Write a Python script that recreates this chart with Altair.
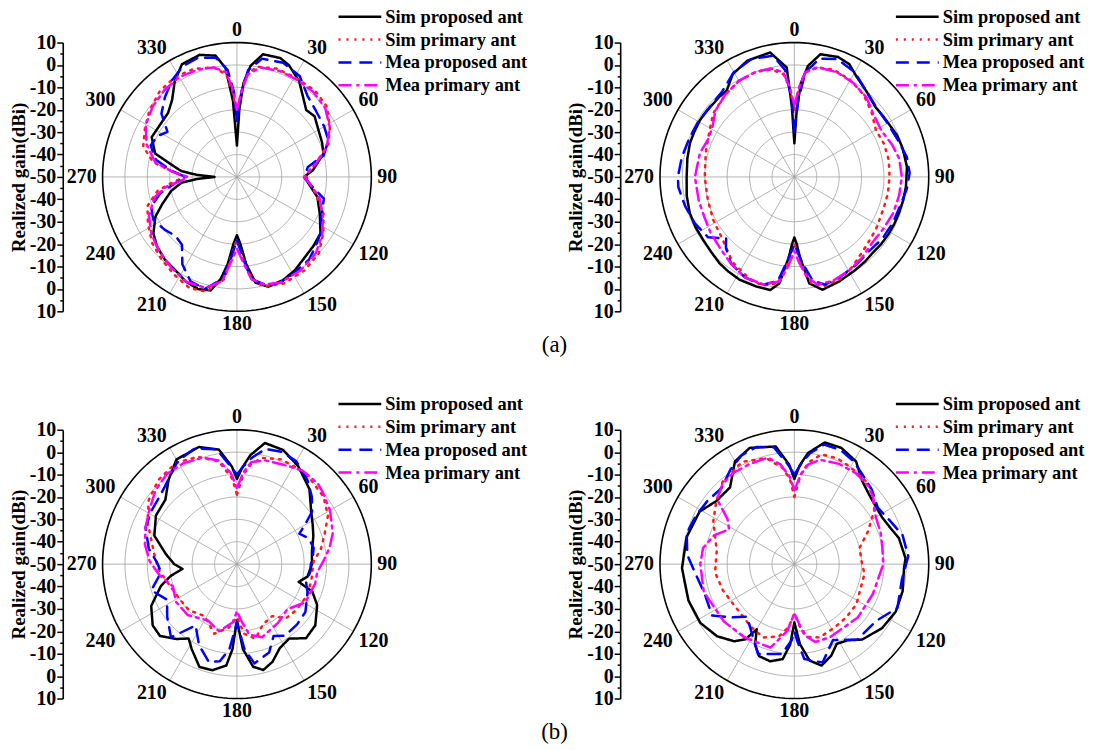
import altair as alt
import pandas as pd

SERIES = ["Sim proposed ant", "Sim primary ant", "Mea proposed ant", "Mea primary ant"]
COLORS = ["#000000", "#ff1a1a", "#0000ff", "#ff00ff"]
DASHES = [[1, 0], [2, 6], [13, 8], [13, 5, 3, 5]]

CENTER_GAIN = -50
OUTER_GAIN = 10
RING_GAINS = [-40, -30, -20, -10, 0]
SPOKE_DEG = [0, 30, 60, 90, 120, 150, 180, 210, 240, 270, 300, 330]
ANGLE_LABELS = ["0", "30", "60", "90", "120", "150", "180", "210", "240", "270", "300", "330"]
AXIS_VALUES = list(range(-60, 61, 5))
PANEL_TAGS = ["(a)", "(b)"]
FONT = "Liberation Serif"

# ---------------- (a) left ----------------
A1_SIM_PROP_DEG = [0, 2, 4, 7, 12, 20, 25, 33, 41, 46, 52, 60, 68, 75, 85, 90, 95, 104, 114, 124,
                   132, 140, 148, 156, 164, 170, 174, 177, 180, 183, 186, 189, 193, 199, 206, 213, 221, 229, 236, 244,
                   250, 258, 264, 267, 270, 273, 276, 280, 286, 295, 303, 313, 320, 327, 334, 343, 350, 354, 357, 360]
A1_SIM_PROP_GAIN = [-36, -20, -8, 0, 6, 6.5, 5, 1, -4.5, -7, -6, -8, -9, -10, -16, -20, -18, -13, -9.5, -5,
                    -4, -3, -1, 0.5, 1, -2, -11, -20, -24, -20, -11, -4, 2, 3, 2, 0, -1, -2.7, -5, -9.5,
                    -14.5, -20, -25, -32, -40, -32, -25, -21, -12, -8, -8.5, -8, -5, 1, 6, 7, 5, -1, -16, -36]
A1_SIM_PRIM_DEG = [0, 2, 5, 10, 20, 30, 42, 52, 62, 70, 78, 84, 90, 96, 102, 113, 123, 133, 144, 156,
                   166, 172, 176, 180, 184, 187, 195, 203, 212, 222, 232, 242, 252, 260, 266, 270, 274, 280, 288, 298,
                   307, 318, 328, 338, 348, 354, 357, 360]
A1_SIM_PRIM_GAIN = [-22, -15, -5, 0, 1.5, 1.5, 2, 1, -3, -6.5, -13, -17, -19, -17, -14, -8, -4, 0, 1.5, 2,
                    0.5, -4, -14, -22, -15, -4, 3, 4, 2, 0, -2, -5, -8, -14, -22, -27, -22, -12, -6, -3.5,
                    -1, 1.5, 2.5, 2, 0, -4, -12, -22]
A1_MEA_PROP_DEG = [0, 3, 6, 12, 22, 32, 41, 50, 60, 68, 76, 82, 90, 96, 104, 114, 124, 132, 139, 150,
                   158, 165, 172, 176, 180, 184, 188, 196, 204, 212, 219, 226, 234, 243, 251, 258, 264, 270, 276, 282,
                   290, 297, 303, 310, 318, 326, 334, 342, 350, 355, 358, 360]
A1_MEA_PROP_GAIN = [-25, -12, -2, 4, 5, 3, -2, -4, -5, -6, -10, -18, -20, -17, -10, -8.6, -5, -3, -1, 0,
                    1, 0, -4, -14, -22, -14, -4, 2, 1, -4, -11, -12, -10, -8, -9.5, -15, -22, -27, -20, -13,
                    -9, -10, -13, -6, -2, 2, 5, 6, 4, -2, -12, -25]
A1_MEA_PRIM_DEG = [0, 3, 6, 12, 22, 32, 42, 52, 62, 72, 80, 86, 90, 96, 104, 114, 124, 134, 146, 158,
                   166, 172, 176, 180, 184, 188, 196, 206, 216, 226, 236, 246, 256, 262, 266, 270, 274, 280, 290, 300,
                   310, 320, 330, 340, 348, 354, 357, 360]
A1_MEA_PRIM_GAIN = [-20, -12, -4, 0, 1, 1, 1, 0, -3, -8, -14, -18, -20, -17, -12, -8, -4, -1, 0.5, 1,
                    -0.5, -4, -12, -18, -12, -3, 1.5, 2, 0, -2, -4, -7, -12, -18, -25, -28, -22, -13, -7, -3,
                    -1, 0.5, 1.5, 1, 0, -3, -10, -20]

# ---------------- (a) right ----------------
A2_SIM_PROP_DEG = [0, 2, 4, 7, 12, 20, 26, 32, 40, 49, 55, 61, 68, 75, 85, 95, 102, 109, 115, 121,
                   128, 134, 140, 147, 157, 166, 172, 176, 178, 180, 182, 184, 188, 192, 199, 208, 215, 221, 228, 235,
                   243, 251, 260, 270, 280, 288, 294, 301, 307, 312, 317, 322, 329, 338, 349, 356, 358, 360]
A2_SIM_PROP_GAIN = [-35, -20, -8, 0, 6, 7, 6, 2.6, 0, -2.2, -2, -1.6, -0.5, 0, 0.5, 0, -0.3, -0.6, -0.7, -0.8,
                    -1, -1.3, -0.8, -0.3, 0.8, 1.9, -2, -14, -20, -23, -20, -14, -2, 1.6, 1.8, 2, 1.5, 1, 0, -0.5,
                    -0.5, -0.6, -1.2, -1.9, -1.5, -1, -1, -0.8, -1, -1.2, -1, -1, 3.5, 6, 6.6, -1, -19, -35]
A2_SIM_PRIM_DEG = [0, 3, 6, 12, 20, 30, 40, 50, 60, 70, 80, 90, 100, 108, 116, 123, 134, 147, 156, 165,
                   171, 175, 180, 185, 189, 196, 203, 216, 229, 242, 255, 270, 285, 293, 302, 308, 320, 330, 340, 348,
                   354, 357, 360]
A2_SIM_PRIM_GAIN = [-20, -10, -3, 0, 1, 0, -2, -5, -8, -7.3, -7.2, -7.5, -7.6, -7.8, -7.5, -6.7, -5.5, -2.3, 0, 0.5,
                    -2, -10, -20, -10, -2, 0.5, 0, -3, -7.5, -9, -10, -10, -9, -8, -6, -4, -2, -0.5, 0, -1,
                    -4, -10, -20]
A2_MEA_PROP_DEG = [0, 3, 6, 12, 20, 30, 40, 50, 60, 70, 80, 88, 96, 105, 115, 125, 135, 145, 155, 164,
                   170, 175, 180, 185, 189, 196, 206, 216, 224, 228, 235, 245, 255, 265, 270, 280, 290, 300, 310, 320,
                   330, 340, 350, 355, 358, 360]
A2_MEA_PROP_GAIN = [-30, -15, -3, 4, 6, 4, 0, -2, -2, -1, 1, 1.5, 0.5, -1, -1.5, -2, -3, -2, -1, 0,
                    -3, -12, -20, -12, -3, 0, 0, -2, -6, -9, -3, -1, 0.5, 2, 2, 1, 0, -0.5, -1, 0,
                    4, 6, 5, -2, -15, -30]
A2_MEA_PRIM_DEG = [0, 3, 6, 12, 22, 32, 42, 52, 62, 72, 80, 90, 100, 110, 120, 130, 140, 150, 160, 168,
                   173, 177, 180, 184, 188, 196, 206, 216, 226, 236, 246, 256, 270, 284, 294, 302, 310, 320, 330, 340,
                   348, 354, 357, 360]
A2_MEA_PRIM_GAIN = [-18, -10, -3, 0, 0.5, -0.5, -2, -5, -6, -4, -2.5, -2, -2.5, -3, -4, -4.5, -3, -1.5, -0.5, -1,
                    -5, -12, -17, -10, -3, 0, 0, -2, -4, -5, -6, -6, -5.6, -6.5, -8, -7, -4, -2, -0.5, 0,
                    -0.5, -3, -10, -18]

# ---------------- (b) left ----------------
B1_SIM_PROP_DEG = [0, 3, 7, 13, 22, 32, 44, 55, 63, 70, 80, 90, 100, 106, 110, 117, 128, 137, 145, 153,
                   160, 166, 171, 176, 180, 183, 186, 193, 200, 208, 213, 219, 227, 234, 244, 254, 260, 265, 270, 278,
                   289, 301, 312, 321, 330, 342, 351, 357, 360]
B1_SIM_PROP_GAIN = [-12, -7, -1, 5.5, 5, 1.6, -3.4, -9.5, -12, -13.7, -16, -16.5, -18, -21.3, -14.2, -9.8, -5.6, -4.8, -9.4, -7.9,
                    -3.6, -1.3, -3.6, -12, -25, -12, -4.5, -1.4, -1.1, -7, -10.4, -7, -3, -3.5, -7.4, -14.7, -20, -25.6, -22, -18,
                    -11, -7.8, -7, -1.5, 4, 5, 1.8, -6.3, -12]
B1_SIM_PRIM_DEG = [0, 4, 8, 13, 23, 37, 52, 62, 72, 80, 88, 102, 114, 128, 138, 146, 157, 166, 174, 180,
                   187, 198, 212, 226, 239, 255, 266, 277, 295, 306, 317, 329, 340, 350, 357, 360]
B1_SIM_PRIM_GAIN = [-19, -10, -5, -1.3, 0.8, 1, -1, -4, -9, -12, -15.8, -16, -15.7, -16.5, -17.4, -22, -20.6, -15.7, -18.7, -26.3,
                    -21.6, -17.3, -22.7, -20.3, -20, -18, -15, -12.8, -6, -1.3, 1.4, 2.8, 1, -3.4, -12, -19]
B1_MEA_PROP_DEG = [0, 4, 8, 14, 22, 30, 40, 48, 55, 60, 64, 70, 78, 85, 90, 95, 105, 112, 125, 135,
                   146, 153, 160, 170, 175, 180, 185, 190, 196, 205, 214, 222, 233, 243, 253, 264, 272, 280, 292, 302,
                   312, 322, 330, 340, 350, 356, 360]
B1_MEA_PROP_GAIN = [-10, -6, -2, 3, 4, 3, -1, -5, -9, -15, -19, -16, -15, -16, -17, -17, -18, -16, -12.7, -12,
                    -11.5, -14, -8, -5, -12, -24, -12, -6, -4.5, -10, -17, -6, -11, -15, -10, -16, -14, -10, -6, -5,
                    -4, -1, 3, 5, 2, -6, -10]
B1_MEA_PRIM_DEG = [0, 4, 8, 15, 25, 35, 45, 50, 60, 72, 80, 87, 96, 104, 119, 132, 145, 161, 170, 176,
                   180, 184, 195, 207, 224, 238, 251, 262, 272, 282, 292, 302, 312, 322, 332, 342, 350, 356, 360]
B1_MEA_PRIM_GAIN = [-16, -9, -4, -2, -1, 1, 1, 0, -2, -5, -8, -11, -14, -14, -15, -19.8, -18, -15.5, -18, -25,
                    -29, -24, -19, -21.7, -18.4, -18, -19.7, -15, -11, -8, -6, -4, -1, 1, 1, 0, -3, -9, -16]

# ---------------- (b) right ----------------
B2_SIM_PROP_DEG = [0, 3, 7, 14, 22, 31, 39, 47, 55, 62, 70, 76, 87, 92, 104, 115, 126, 138, 145, 152,
                   158, 165, 171, 176, 180, 183, 187, 194, 201, 206, 210, 213, 218, 227, 238, 251, 268, 284, 299, 309,
                   320, 330, 339, 351, 357, 360]
B2_SIM_PROP_GAIN = [-12, -6, 0, 6, 6, 3.5, -2, -4.4, -5.5, -5.6, -4, -1.9, -0.3, -1, -0.2, 0, -1.5, -4.7, -8.5, -9.7,
                    -6, -3.1, -6.4, -14.2, -24, -14, -7.3, -5.3, -6, -10, -16.4, -10, -6.3, -2.8, -0.5, 0, 0.2, -0.4, -1.6, -5.2,
                    -5.3, 3, 5.6, 3.2, -5.5, -12]
B2_SIM_PRIM_DEG = [0, 4, 8, 14, 22, 30, 40, 47, 56, 66, 76, 87, 98, 123, 136, 148, 161, 170, 175, 180,
                   185, 192, 203, 215, 237, 250, 264, 280, 298, 309, 319, 333, 345, 353, 357, 360]
B2_SIM_PRIM_GAIN = [-20, -10, -4, 0.5, 1, 0, -1, -2.3, -7, -14, -20, -20, -18.4, -17, -16.8, -16.5, -15.4, -17, -22, -28,
                    -22, -17, -14.4, -16, -17.4, -16, -14.4, -14.8, -9, -5.2, -1.2, 1.3, -1, -6.7, -12, -20]
B2_MEA_PROP_DEG = [0, 4, 8, 14, 22, 30, 38, 46, 56, 66, 75, 86, 98, 113, 125, 140, 153, 164, 174, 178,
                   180, 182, 188, 202, 212, 222, 230, 238, 252, 266, 275, 286, 296, 306, 316, 326, 334, 342, 350, 356,
                   360]
B2_MEA_PROP_GAIN = [-10, -5, 0, 5, 5, 3, 0, -2, -5, -3, 0, 1, -1.5, 0, -5.6, -6.1, -12, -4.3, -7.4, -16,
                    -20, -16, -9.5, -6.7, -14, -18.4, -13, -6.7, -7.8, -5.2, -2, 0, -1, -2, -3, 1, 4, 5, 3, -5,
                    -10]
B2_MEA_PRIM_DEG = [0, 4, 8, 14, 24, 34, 44, 50, 60, 70, 79, 90, 111, 130, 154, 165, 172, 176, 180, 186,
                   196, 214, 231, 253, 270, 280, 290, 298, 304, 310, 318, 326, 336, 346, 352, 357, 360]
B2_MEA_PRIM_GAIN = [-17, -10, -5, -2, -1, -1, -2, -4, -8, -9, -10, -10.3, -12.5, -13, -13.7, -14, -18, -24, -28, -20,
                    -11.2, -10.5, -9.4, -7.7, -8, -8.6, -12, -17, -14, -5, -2, -1, -1, -1, -5, -11, -17]

PX_PER_UNIT = 270 / 120.0
LABEL_GAP_PX = 6


def polar_xy(rfield):
    return dict(
        px=f"({rfield} - ({CENTER_GAIN})) * sin(datum.deg * PI / 180)",
        py=f"({rfield} - ({CENTER_GAIN})) * cos(datum.deg * PI / 180)",
    )


def panel(curves, tag=None):
    rows = []
    for name, degs, gains in curves:
        for i, (d, g) in enumerate(zip(degs, gains)):
            rows.append({"series": name, "deg": d, "gain": g, "i": i})
    df = pd.DataFrame(rows)

    rmax = OUTER_GAIN - CENTER_GAIN
    xs = alt.Scale(domain=[-rmax, rmax], nice=False, zero=False)
    ys = alt.Scale(domain=[-rmax, rmax], nice=False, zero=False)
    cscale = alt.Scale(domain=SERIES, range=COLORS)
    dscale = alt.Scale(domain=SERIES, range=DASHES)

    yaxis = alt.Axis(
        values=AXIS_VALUES,
        labelExpr="abs(datum.value) % 10 == 0 ? '' + (abs(datum.value) - 50) : ''",
        tickSize={"condition": {"test": "abs(datum.value) % 10 == 0", "value": 6}, "value": 3},
        tickWidth=1.5, tickColor="black", domainColor="black", domainWidth=1.6,
        labelFont=FONT, labelFontSize=20, labelFontWeight="bold", labelColor="black",
        labelPadding=1, labelOverlap=False, labelFlush=False, offset=40, grid=False,
        title="Realized gain(dBi)", titleFont=FONT, titleFontSize=19, titleFontWeight="bold",
        titleColor="black", titlePadding=1,
    )
    X = lambda f: alt.X(f, type="quantitative", scale=xs, axis=None)
    Y = lambda f: alt.Y(f, type="quantitative", scale=ys, axis=yaxis)

    rings = (
        alt.Chart(pd.DataFrame({"ring": RING_GAINS}))
        .transform_calculate(deg="sequence(0, 361, 2)")
        .transform_flatten(["deg"])
        .transform_calculate(**polar_xy("datum.ring"))
        .mark_line(color="#a0a0a0", strokeWidth=0.8)
        .encode(x=X("px"), y=Y("py"), detail="ring:N", order="deg:Q")
    )
    outer = (
        alt.Chart(pd.DataFrame({"ring": [OUTER_GAIN]}))
        .transform_calculate(deg="sequence(0, 361, 2)")
        .transform_flatten(["deg"])
        .transform_calculate(**polar_xy("datum.ring"))
        .mark_line(color="black", strokeWidth=1.6)
        .encode(x=X("px"), y=Y("py"), detail="ring:N", order="deg:Q")
    )
    spokes = (
        alt.Chart(pd.DataFrame({"deg": SPOKE_DEG}))
        .transform_calculate(r0=f"{CENTER_GAIN}", r1=f"{OUTER_GAIN}")
        .transform_calculate(
            x0="(datum.r0 - (%d)) * sin(datum.deg * PI / 180)" % CENTER_GAIN,
            y0="(datum.r0 - (%d)) * cos(datum.deg * PI / 180)" % CENTER_GAIN,
            x1="(datum.r1 - (%d)) * sin(datum.deg * PI / 180)" % CENTER_GAIN,
            y1="(datum.r1 - (%d)) * cos(datum.deg * PI / 180)" % CENTER_GAIN,
        )
        .mark_rule(color="#a0a0a0", strokeWidth=0.8)
        .encode(x=X("x0"), y=Y("y0"), x2="x1:Q", y2="y1:Q")
    )
    # angle labels: nearest corner of the text box sits just outside the outer ring
    labels = (
        alt.Chart(pd.DataFrame({"deg": SPOKE_DEG, "label": ANGLE_LABELS}))
        .transform_calculate(s="sin(datum.deg * PI / 180)", c="cos(datum.deg * PI / 180)")
        .transform_calculate(
            ss="abs(datum.s) < 0.01 ? 0 : (datum.s > 0 ? 1 : -1)",
            cs="abs(datum.c) < 0.01 ? 0 : (datum.c > 0 ? 1 : -1)",
        )
        .transform_calculate(
            px=f"({rmax} + {LABEL_GAP_PX} / {PX_PER_UNIT}) * datum.s"
               f" + datum.ss * length(datum.label) * 5 / {PX_PER_UNIT}",
            py=f"({rmax} + {LABEL_GAP_PX} / {PX_PER_UNIT}) * datum.c"
               f" + datum.cs * 7 / {PX_PER_UNIT}",
        )
        .mark_text(font=FONT, fontSize=20, fontWeight="bold", color="black",
                   align="center", baseline="middle")
        .encode(x=X("px"), y=Y("py"), text="label:N")
    )
    lines = (
        alt.Chart(df)
        .transform_calculate(**polar_xy("datum.gain"))
        .mark_line(strokeWidth=2.5, strokeCap="round", strokeJoin="round", clip=False)
        .encode(
            x=X("px"), y=Y("py"),
            color=alt.Color("series:N", scale=cscale, legend=None),
            strokeDash=alt.StrokeDash("series:N", scale=dscale, legend=None),
            order="i:Q",
        )
    )
    layers = [rings, spokes, outer, labels, lines]
    if tag is not None:
        tag_mark = (
            alt.Chart(pd.DataFrame({"tag": [tag]}))
            .mark_text(font=FONT, fontSize=23, color="black", align="center", baseline="middle")
            .encode(text="tag:N", x=alt.value(454), y=alt.value(304))
        )
        layers.append(tag_mark)
    main = alt.layer(*layers)

    # legend drawn in the top-right corner of each panel
    ly = alt.Y("series:N", scale=alt.Scale(type="point", domain=SERIES, range=[-26, 43], padding=0),
               axis=None)
    leg_df = pd.DataFrame({"series": SERIES})
    leg_sym = (
        alt.Chart(leg_df)
        .mark_rule(strokeWidth=2.5)
        .encode(x=alt.value(237), x2=alt.value(280), y=ly,
                color=alt.Color("series:N", scale=cscale, legend=None),
                strokeDash=alt.StrokeDash("series:N", scale=dscale, legend=None))
    )
    leg_txt = (
        alt.Chart(leg_df)
        .mark_text(font=FONT, fontSize=18.5, fontWeight="bold", color="black",
                   align="left", baseline="middle")
        .encode(x=alt.value(284), y=ly, text="series:N")
    )
    legend = alt.layer(leg_sym, leg_txt)
    return (
        alt.layer(main, legend)
        .resolve_scale(y="independent")
        .properties(width=270, height=270)
    )


def curves(prefix):
    g = globals()
    return [
        (SERIES[0], g[prefix + "_SIM_PROP_DEG"], g[prefix + "_SIM_PROP_GAIN"]),
        (SERIES[1], g[prefix + "_SIM_PRIM_DEG"], g[prefix + "_SIM_PRIM_GAIN"]),
        (SERIES[2], g[prefix + "_MEA_PROP_DEG"], g[prefix + "_MEA_PROP_GAIN"]),
        (SERIES[3], g[prefix + "_MEA_PRIM_DEG"], g[prefix + "_MEA_PRIM_GAIN"]),
    ]


chart = (
    alt.concat(
        panel(curves("A1"), PANEL_TAGS[0]), panel(curves("A2")),
        panel(curves("B1"), PANEL_TAGS[1]), panel(curves("B2")),
        columns=2, spacing={"row": 119, "column": 290}, bounds="flush",
    )
    .configure_view(stroke=None)
    .properties(
        background="white",
        padding={"left": 1, "top": -2, "right": 5, "bottom": 5},
    )
)

chart.save("out.html", embed_options={"renderer": "svg", "actions": False})
